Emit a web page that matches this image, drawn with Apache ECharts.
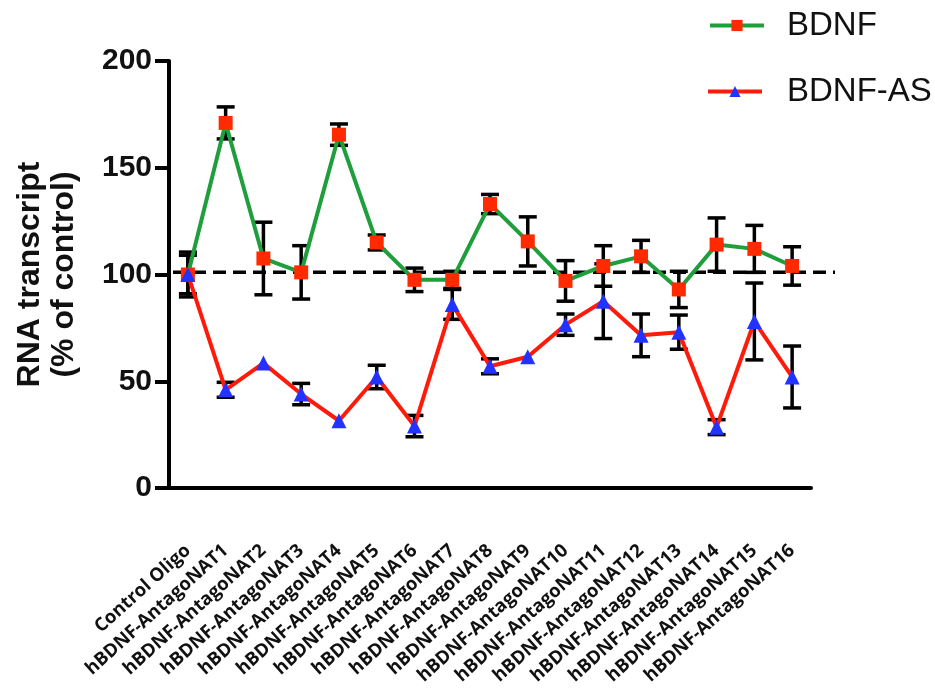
<!DOCTYPE html>
<html>
<head>
<meta charset="utf-8">
<script src="https://cdn.jsdelivr.net/npm/echarts@6/dist/echarts.min.js"></script>
<style>
html,body{margin:0;padding:0;background:#fff;}
#chart{width:935px;height:698px;}
</style>
</head>
<body>
<div id="chart"></div>
<script>
const categories = ['Control Oligo','hBDNF-AntagoNAT1','hBDNF-AntagoNAT2','hBDNF-AntagoNAT3','hBDNF-AntagoNAT4','hBDNF-AntagoNAT5','hBDNF-AntagoNAT6','hBDNF-AntagoNAT7','hBDNF-AntagoNAT8','hBDNF-AntagoNAT9','hBDNF-AntagoNAT10','hBDNF-AntagoNAT11','hBDNF-AntagoNAT12','hBDNF-AntagoNAT13','hBDNF-AntagoNAT14','hBDNF-AntagoNAT15','hBDNF-AntagoNAT16'];
const bdnf      = [100, 171, 107.5, 101, 165.5, 115, 97.5, 97.5, 133, 115.5, 97, 104, 108.5, 93, 114, 112, 104];
const bdnfErr   = [10.5, 7.5, 17, 12.5, 5, 3.5, 5.5, 4, 4.5, 11.5, 9.5, 9.5, 7.5, 8.5, 12.5, 11, 9];
const bdnfAS    = [100, 46, 58.5, 44, 31.5, 52, 29, 86, 57, 61.5, 76.5, 87.5, 71.5, 73, 28.5, 78, 52];
const bdnfASErr = [9, 3.5, 0, 5, 0, 5.5, 5, 7, 3.5, 0, 5, 17.5, 10, 8, 3.5, 18, 14.5];
const refValue = 101;
const yMin = 0, yMax = 200, yInterval = 50;

const chart = echarts.init(document.getElementById('chart'), null, {renderer: 'canvas'});

function errData(vals, errs) {
  return vals.map((v, i) => [i, v, errs[i]]);
}
function errRender(params, api) {
  const i = api.value(0), v = api.value(1), e = api.value(2);
  if (!e) return {type: 'group', children: []};
  const top = api.coord([i, v + e]);
  const bot = api.coord([i, v - e]);
  const hw = 9;
  const style = {stroke: '#000', lineWidth: 3.5};
  return {
    type: 'group',
    children: [
      {type: 'line', shape: {x1: top[0], y1: top[1], x2: bot[0], y2: bot[1]}, style: style},
      {type: 'line', shape: {x1: top[0] - hw, y1: top[1], x2: top[0] + hw, y2: top[1]}, style: style},
      {type: 'line', shape: {x1: bot[0] - hw, y1: bot[1], x2: bot[0] + hw, y2: bot[1]}, style: style}
    ]
  };
}

const legendText = {fontSize: 33, fontFamily: 'Liberation Sans, Arial, sans-serif', color: '#111'};

const option = {
  backgroundColor: '#fff',
  animation: false,
  grid: {left: 169, right: 124, top: 61, bottom: 210, containLabel: false, outerBoundsMode: 'none'},
  legend: [
    {
      data: ['BDNF'], left: 703, top: 4, itemWidth: 54, itemHeight: 14,
      lineStyle: {width: 4},
      textStyle: Object.assign({padding: [0, 0, 0, 18]}, legendText)
    },
    {
      data: ['BDNF-AS'], left: 701, top: 70, itemWidth: 54, itemHeight: 14,
      lineStyle: {width: 4},
      textStyle: Object.assign({padding: [0, 0, 0, 20]}, legendText)
    }
  ],
  xAxis: {
    type: 'category',
    data: categories,
    boundaryGap: true,
    axisLine: {lineStyle: {color: '#000', width: 4}},
    axisTick: {alignWithLabel: true, length: 14, lineStyle: {color: '#000', width: 4}},
    axisLabel: {
      rotate: 42, margin: 60, interval: 0,
      fontSize: 18.5, fontWeight: 'bold', color: '#111',
      fontFamily: 'Open Sans, Noto Sans, sans-serif'
    },
    splitLine: {show: false}
  },
  yAxis: {
    type: 'value',
    min: yMin, max: yMax, interval: yInterval,
    name: 'RNA transcript\n(% of control)',
    nameLocation: 'middle',
    nameGap: 88,
    nameTextStyle: {fontSize: 32, fontWeight: 'bold', color: '#111', lineHeight: 34, fontFamily: 'Liberation Sans, Arial, sans-serif'},
    axisLine: {show: true, lineStyle: {color: '#000', width: 4}},
    axisTick: {show: true, length: 14, lineStyle: {color: '#000', width: 4}},
    axisLabel: {fontSize: 30, fontWeight: 'bold', color: '#111', margin: 17, fontFamily: 'Liberation Sans, Arial, sans-serif'},
    splitLine: {show: false}
  },
  series: [
    {
      name: 'refline', type: 'custom', z: 1, silent: true, clip: false,
      data: [[0, refValue]],
      renderItem: function (params, api) {
        const p = api.coord([0, api.value(1)]);
        const cs = params.coordSys;
        return {
          type: 'line',
          shape: {x1: cs.x + 4, y1: p[1], x2: cs.x + cs.width + 24, y2: p[1]},
          style: {stroke: '#000', lineWidth: 3.5, lineDash: [13, 7]}
        };
      }
    },
    {name: 'bdnfErr', type: 'custom', z: 2, silent: true, data: errData(bdnf, bdnfErr), renderItem: errRender},
    {name: 'bdnfASErr', type: 'custom', z: 2, silent: true, data: errData(bdnfAS, bdnfASErr), renderItem: errRender},
    {
      name: 'BDNF', type: 'line', z: 3, data: bdnf,
      symbol: 'rect', symbolSize: 14,
      lineStyle: {color: '#1f9e3c', width: 4},
      itemStyle: {color: '#ff2a00'}
    },
    {
      name: 'BDNF-AS', type: 'line', z: 4, data: bdnfAS,
      symbol: 'triangle', symbolSize: 15,
      lineStyle: {color: '#ff1a0a', width: 4},
      itemStyle: {color: '#2233ff'}
    }
  ]
};
chart.setOption(option);
</script>
</body>
</html>
